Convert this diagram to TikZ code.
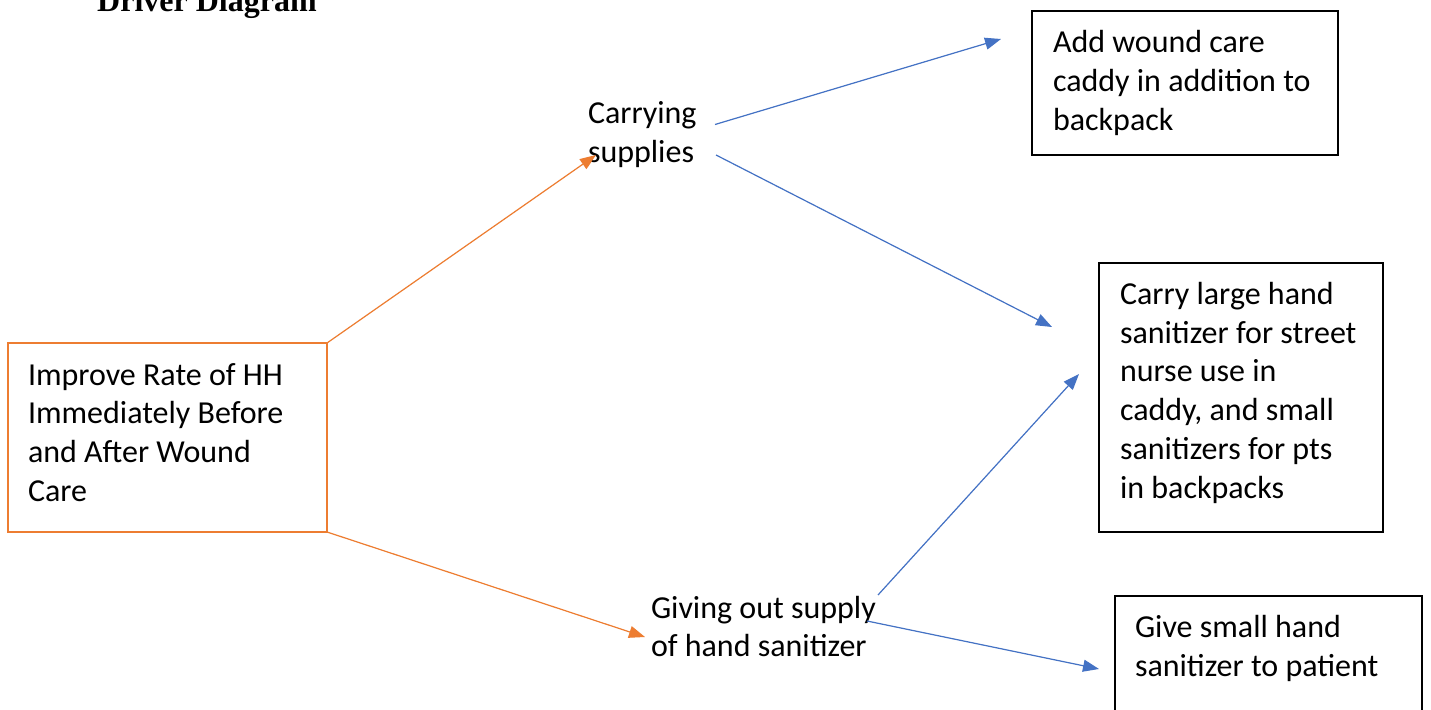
\documentclass[tikz,border=0pt]{standalone}
\usepackage{fontspec}
\setmainfont{Carlito}
\newfontfamily\titlefont{Liberation Serif}
\usetikzlibrary{arrows.meta}
\definecolor{drvorange}{HTML}{ED7D31}
\definecolor{drvblue}{HTML}{4472C4}
\newcommand{\stack}[1]{\begin{tabular}[t]{@{}l@{}}#1\end{tabular}}
\begin{document}
\begin{tikzpicture}[x=1pt,y=-1pt,
  box/.style={draw=black, line width=1.1pt, rectangle, inner sep=0pt,
    outer sep=0pt, anchor=north west},
  rootbox/.style={box, draw=drvorange, line width=2.4pt},
  txt/.style={anchor=base west, inner sep=0pt, outer sep=0pt,
    font=\fontsize{32}{38.8}\selectfont},
  link/.style={-{Triangle[length=16pt,width=12pt]}, line width=1.2pt},
  orangelink/.style={link, draw=drvorange, fill=drvorange},
  bluelink/.style={link, draw=drvblue, fill=drvblue}]
\clip (0,0) rectangle (1431,709);
\fill[white] (0,0) rectangle (1431,709);

% title
\node[anchor=base west, inner sep=0pt,
  font=\titlefont\bfseries\fontsize{32}{38}\selectfont] (title) at (97,12) {Driver Diagram};

% aim
\node[rootbox, minimum width=319pt, minimum height=189pt] (aim) at (8,343) {};
\node[txt] (aimtxt) at (28,385) {\stack{Improve Rate of HH\\Immediately Before\\and After Wound\\Care}};

% primary drivers
\node[txt] (carry) at (588,123.5) {\stack{Carrying\\supplies}};
\node[txt] (giving) at (651,618) {\stack{Giving out supply\\of hand sanitizer}};

% change ideas
\node[box, minimum width=306pt, minimum height=144pt] (caddy) at (1032,11) {};
\node[txt] (caddytxt) at (1053,52.7) {\stack{Add wound care\\caddy in addition to\\backpack}};

\node[box, minimum width=284pt, minimum height=269pt] (large) at (1099,263) {};
\node[txt] (largetxt) at (1120,304.3) {\stack{Carry large hand\\sanitizer for street\\nurse use in\\caddy, and small\\sanitizers for pts\\in backpacks}};

\node[box, minimum width=307pt, minimum height=130pt] (small) at (1115,596) {};
\node[txt] (smalltxt) at (1135,637.5) {\stack{Give small hand\\sanitizer to patient}};

% connector ends
\coordinate (carryin) at (596,155);
\coordinate (givingin) at (645,637);
\coordinate (carryout1) at (715,124.5);
\coordinate (carryout2) at (716,155);
\coordinate (givingout1) at (878,595);
\coordinate (givingout2) at (867,621);
\coordinate (caddyin) at (1001,39);
\coordinate (largein1) at (1052,327);
\coordinate (largein2) at (1079,374);
\coordinate (smallin) at (1099,669);

% aim to primary drivers
\draw[orangelink] (aim.north east) -- (carryin);
\draw[orangelink] (aim.south east) -- (givingin);

% primary drivers to change ideas
\draw[bluelink] (carryout1) -- (caddyin);
\draw[bluelink] (carryout2) -- (largein1);
\draw[bluelink] (givingout1) -- (largein2);
\draw[bluelink] (givingout2) -- (smallin);
\end{tikzpicture}
\end{document}
